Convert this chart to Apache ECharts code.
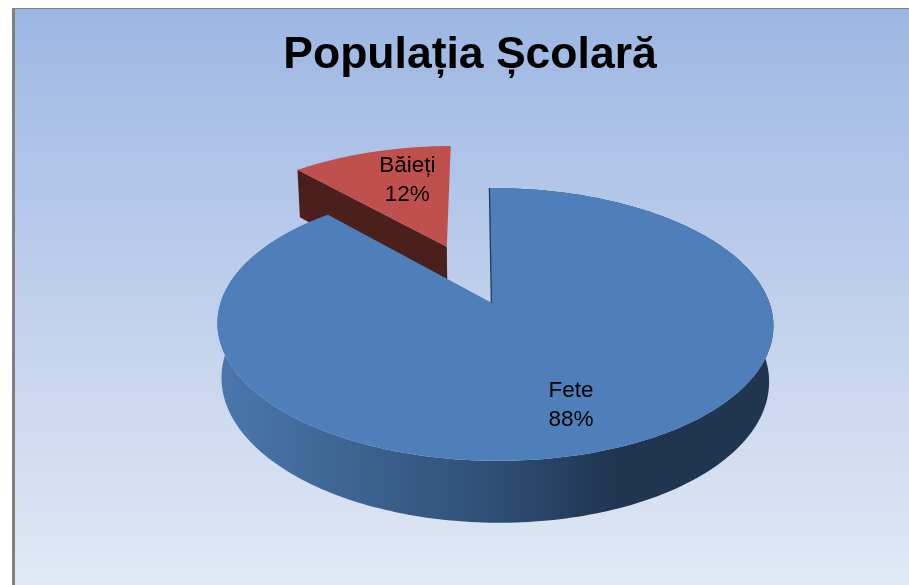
<!doctype html>
<html>
 <head>
  <meta charset="UTF-8">
  <title>Populația Școlară</title>
  <script src="https://cdn.jsdelivr.net/npm/echarts@6/dist/echarts.min.js"></script>
  <style>
   html, body { margin: 0; padding: 0; background: #fff; }
  </style>
 </head>
 <body>
  <div id="chart" style="width: 909px; height: 585px; margin: 0"></div>
  <script type="text/javascript">
    var categories = ['Fete', 'Băieți'];
    var values = [88.4, 11.6];
    var titleText = 'Populația Școlară';

    // which slices are pulled out of the pie (share of radius)
    var explode = [0, 0.485];
    var topColors = ['#4f7fba', '#c0504d'];
    var wallColors = ['#1f3550', '#4a1f1c'];

    var total = values.reduce(function (a, b) { return a + b; }, 0);

    // perspective projection of the pie disc onto the screen
    var cx = 492, cy = 303, ax = 274.5, ay = 133;
    var kY = 0.1575, kX = -0.0108, shear = -2.3, depth = 55.4, kZ = 0.015;

    function project(X, Y, Z) {
        var w = 1 + kY * Y + kX * X + kZ * Z;
        return [cx + ax * X / w + shear * Y / w, cy - ay * Y / w + depth * Z / w];
    }

    function arcPoints(a0, a1, ox, oy, Z) {
        var pts = [];
        var n = Math.ceil(Math.abs(a1 - a0) / 0.02);
        for (var i = 0; i <= n; i++) {
            var a = a0 + (a1 - a0) * i / n;
            pts.push(project(ox + Math.sin(a), oy + Math.cos(a), Z));
        }
        return pts;
    }

    function renderSlice(params, api) {
        var idx = params.dataIndex;
        var before = 0;
        for (var i = 0; i < idx; i++) before += values[i];
        var a0 = before / total * Math.PI * 2;
        var a1 = (before + api.value(1)) / total * Math.PI * 2;
        var mid = (a0 + a1) / 2;
        var ox = explode[idx] * Math.sin(mid);
        var oy = explode[idx] * Math.cos(mid);
        var z = idx === 0 ? 2 : 1;
        var top = project(ox, oy, 0);
        var low = project(ox, oy, 1);
        var children = [];

        // outer wall, only the big slice shows it
        if (idx === 0) {
            var topArc = arcPoints(a0, a1, ox, oy, 0);
            var lowArc = arcPoints(a0, a1, ox, oy, 1).reverse();
            children.push({
                type: 'polygon', z2: z,
                shape: { points: topArc.concat(lowArc) },
                style: {
                    fill: new echarts.graphic.LinearGradient(0, 0, 1, 0, [
                        { offset: 0, color: '#4a78ac' },
                        { offset: 0.5, color: '#2f4e75' },
                        { offset: 0.72, color: '#1f3550' },
                        { offset: 1, color: '#1f3550' }
                    ])
                }
            });
            // thin inner wall seen edge-on in the notch
            children.push({
                type: 'line', z2: z,
                shape: {
                    x1: top[0], y1: top[1],
                    x2: project(ox + Math.sin(a0), oy + Math.cos(a0), 0)[0],
                    y2: project(ox + Math.sin(a0), oy + Math.cos(a0), 0)[1]
                },
                style: { stroke: wallColors[0], lineWidth: 2.5 }
            });
        } else {
            // cut face on the left of the small slice
            var s0 = project(ox + Math.sin(a0), oy + Math.cos(a0), 0);
            var s1 = project(ox + Math.sin(a0), oy + Math.cos(a0), 1);
            children.push({
                type: 'polygon', z2: z,
                shape: { points: [top, s0, s1, low] },
                style: { fill: wallColors[1] }
            });
        }

        // top face
        children.push({
            type: 'polygon', z2: z,
            shape: { points: [top].concat(arcPoints(a0, a1, ox, oy, 0)) },
            style: { fill: topColors[idx] }
        });

        // label, sits at 0.73 of the radius along the middle of the slice
        var lp = project(ox + 0.73 * Math.sin(mid), oy + 0.73 * Math.cos(mid), 0);
        var shift = idx === 0 ? [-3, 0] : [18, 5];
        children.push({
            type: 'text', z2: 5,
            x: lp[0] + shift[0], y: lp[1] + shift[1],
            style: {
                text: categories[idx] + '\n' + Math.round(api.value(1) / total * 100) + '%',
                fill: '#000',
                font: '22.5px "Liberation Sans"',
                lineHeight: 29,
                align: 'center',
                verticalAlign: 'middle'
            }
        });
        return { type: 'group', children: children };
    }

    var myChart = echarts.init(document.getElementById('chart'));
    myChart.setOption({
        animation: false,
        title: {
            text: titleText,
            left: 465,
            top: 28,
            textAlign: 'center',
            textStyle: { fontFamily: 'Liberation Sans', fontSize: 44.5, fontWeight: 'bold', color: '#000' }
        },
        graphic: [
            { type: 'rect', z: -10, shape: { x: 12, y: 8, width: 897, height: 577 }, style: { fill: '#808080' } },
            {
                type: 'rect', z: -9,
                shape: { x: 15, y: 9, width: 894, height: 576 },
                style: {
                    fill: new echarts.graphic.LinearGradient(0, 0, 0, 1, [
                        { offset: 0, color: '#9db7e3' },
                        { offset: 1, color: '#e1e8f5' }
                    ])
                }
            }
        ],
        series: [{
            type: 'custom',
            coordinateSystem: 'none',
            renderItem: renderSlice,
            data: categories.map(function (c, i) { return [i, values[i]]; })
        }]
    });
  </script>
 </body>
</html>
